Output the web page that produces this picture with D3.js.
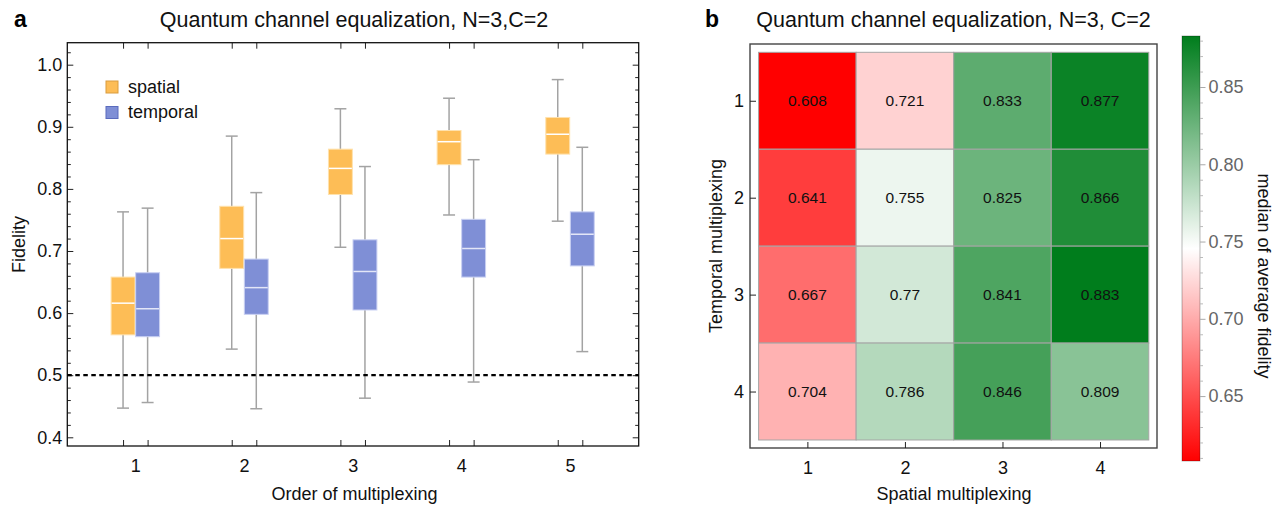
<!DOCTYPE html>
<html>
<head>
<meta charset="utf-8">
<script src="https://cdn.jsdelivr.net/npm/d3@7"></script>
<style>
  body { margin: 0; background: #fff; }
  svg { font-family: "Liberation Sans", Arial, sans-serif; }
</style>
</head>
<body>
<svg id="chart" width="1286" height="510"></svg>
<script>
// ---- data ----
var orders = [1, 2, 3, 4, 5];
// [lower whisker, q1, median, q3, upper whisker]
var spatialBoxes = [
  [0.447, 0.565, 0.616, 0.658, 0.763],
  [0.542, 0.672, 0.720, 0.772, 0.885],
  [0.706, 0.791, 0.833, 0.864, 0.929],
  [0.758, 0.839, 0.876, 0.894, 0.946],
  [0.748, 0.856, 0.888, 0.915, 0.976]
];
var temporalBoxes = [
  [0.456, 0.562, 0.607, 0.665, 0.769],
  [0.446, 0.598, 0.641, 0.687, 0.794],
  [0.463, 0.605, 0.667, 0.718, 0.836],
  [0.489, 0.658, 0.704, 0.751, 0.847],
  [0.538, 0.676, 0.727, 0.763, 0.867]
];
var seriesNames = ["spatial", "temporal"];
var fidelityTicks = [0.4, 0.5, 0.6, 0.7, 0.8, 0.9, 1.0];
var threshold = 0.5;

var spatialLevels = [1, 2, 3, 4];
var temporalLevels = [1, 2, 3, 4];
// rows = temporal multiplexing, columns = spatial multiplexing
var medianFidelity = [
  [0.608, 0.721, 0.833, 0.877],
  [0.641, 0.755, 0.825, 0.866],
  [0.667, 0.770, 0.841, 0.883],
  [0.704, 0.786, 0.846, 0.809]
];
var colorbarTicks = [0.65, 0.70, 0.75, 0.80, 0.85];

var svg = d3.select('#chart');

// ================= panel a : box-whisker =================
var a = {left: 67.3, right: 638.7, top: 42.7, bottom: 446};

var x = d3.scaleLinear().domain([0.374, 5.632]).range([a.left, a.right]);
var y = d3.scaleLinear().domain([0.386, 1.0354]).range([a.bottom, a.top]);

var off = 0.113, boxW = 0.22, capW = 0.11;
var colors = {
  spatial: {fill: "#fdbd56", edge: "#ffe2ad", med: "#ffffff", key: "#d99c3e"},
  temporal: {fill: "#7f8fd6", edge: "#c9d0f2", med: "#e3e6f7", key: "#5a6bbd"}
};

var boxTicks = [];
orders.forEach(function(o) { boxTicks.push(o - off, o + off); });

// minor ticks every 0.02 inside the frame
var minor = d3.range(0.40, 1.04, 0.02).map(function(d) { return +d.toFixed(2); })
  .filter(function(d) { return fidelityTicks.indexOf(d) < 0 && d <= y.domain()[1]; });

function clean(g) { g.select(".domain").remove(); g.selectAll("line").attr("stroke", "#222"); }

svg.append("g").attr("transform", "translate(" + a.left + ",0)")
  .call(d3.axisLeft(y).tickValues(fidelityTicks).tickSize(-6).tickPadding(5).tickFormat(d3.format(".1f")))
  .call(clean)
  .selectAll("text").style("font-size", "18px").attr("fill", "#111");
svg.append("g").attr("transform", "translate(" + a.left + ",0)")
  .call(d3.axisLeft(y).tickValues(minor).tickSize(-3.5).tickFormat(""))
  .call(clean);
svg.append("g").attr("transform", "translate(" + a.right + ",0)")
  .call(d3.axisRight(y).tickValues(fidelityTicks).tickSize(-6).tickFormat(""))
  .call(clean);
svg.append("g").attr("transform", "translate(" + a.right + ",0)")
  .call(d3.axisRight(y).tickValues(minor).tickSize(-3.5).tickFormat(""))
  .call(clean);
svg.append("g").attr("transform", "translate(0," + a.bottom + ")")
  .call(d3.axisBottom(x).tickValues(boxTicks).tickSize(-6).tickFormat(""))
  .call(clean);
svg.append("g").attr("transform", "translate(0," + a.top + ")")
  .call(d3.axisTop(x).tickValues(boxTicks).tickSize(-6).tickFormat(""))
  .call(clean);
svg.append("g").attr("transform", "translate(0," + a.bottom + ")")
  .call(d3.axisBottom(x).tickValues(orders).tickSize(0).tickPadding(13).tickFormat(d3.format("d")))
  .call(clean)
  .selectAll("text").style("font-size", "18px").attr("fill", "#111");

svg.append("rect")
  .attr("x", a.left).attr("y", a.top)
  .attr("width", a.right - a.left).attr("height", a.bottom - a.top)
  .attr("fill", "none").attr("stroke", "#111").attr("stroke-width", 1.3);

function drawBoxes(data, shift, c) {
  var g = svg.append("g");
  data.forEach(function(b, i) {
    var cx = orders[i] + shift;
    var grp = g.append("g");
    grp.append("line")
      .attr("x1", x(cx)).attr("x2", x(cx))
      .attr("y1", y(b[0])).attr("y2", y(b[4]))
      .attr("stroke", "#a3a3a3").attr("stroke-width", 1.5);
    [b[0], b[4]].forEach(function(v) {
      grp.append("line")
        .attr("x1", x(cx - capW / 2)).attr("x2", x(cx + capW / 2))
        .attr("y1", y(v)).attr("y2", y(v))
        .attr("stroke", "#a3a3a3").attr("stroke-width", 1.5);
    });
    grp.append("rect")
      .attr("x", x(cx - boxW / 2)).attr("y", y(b[3]))
      .attr("width", x(cx + boxW / 2) - x(cx - boxW / 2))
      .attr("height", y(b[1]) - y(b[3]))
      .attr("fill", c.fill).attr("stroke", c.edge).attr("stroke-width", 1);
    grp.append("line")
      .attr("x1", x(cx - boxW / 2) + 0.5).attr("x2", x(cx + boxW / 2) - 0.5)
      .attr("y1", y(b[2])).attr("y2", y(b[2]))
      .attr("stroke", c.med).attr("stroke-width", 1.5);
  });
}
drawBoxes(spatialBoxes, -off, colors.spatial);
drawBoxes(temporalBoxes, off, colors.temporal);

svg.append("line")
  .attr("x1", a.left).attr("x2", a.right)
  .attr("y1", y(threshold)).attr("y2", y(threshold))
  .attr("stroke", "#000").attr("stroke-width", 2.2)
  .attr("stroke-dasharray", "4.5,3.5");

// legend
var legend = svg.append("g").attr("transform", "translate(106,81)");
seriesNames.forEach(function(name, i) {
  var c = colors[name];
  legend.append("rect")
    .attr("x", 0).attr("y", i * 25.5).attr("width", 12).attr("height", 12)
    .attr("fill", c.fill).attr("stroke", c.key).attr("stroke-width", 1);
  legend.append("text")
    .attr("x", 22).attr("y", i * 25.5 + 11.5)
    .style("font-size", "18px").attr("fill", "#111").text(name);
});

svg.append("text").attr("x", 14).attr("y", 27)
  .style("font-size", "23px").style("font-weight", "bold").text("a");
svg.append("text").attr("x", 354).attr("y", 27)
  .style("text-anchor", "middle").style("font-size", "21.5px").attr("fill", "#111")
  .text("Quantum channel equalization, N=3,C=2");
svg.append("text")
  .attr("transform", "translate(24.5,244.5) rotate(-90)")
  .style("text-anchor", "middle").style("font-size", "18px").attr("fill", "#111")
  .text("Fidelity");
svg.append("text").attr("x", 354.5).attr("y", 500)
  .style("text-anchor", "middle").style("font-size", "18px").attr("fill", "#111")
  .text("Order of multiplexing");

// ================= panel b : heatmap =================
var b = {left: 750, right: 1157, top: 44, bottom: 448};
var cx = d3.scaleBand().domain(spatialLevels).range([758.6, 1148.8]);
var cy = d3.scaleBand().domain(temporalLevels).range([52.3, 440]);

var allVals = d3.merge(medianFidelity);
var vMin = d3.min(allVals), vMax = d3.max(allVals);
var color = d3.scaleLinear()
  .domain([vMin, (vMin + vMax) / 2, vMax])
  .range(["#ff0000", "#ffffff", "#007d1c"]);

var cells = [];
temporalLevels.forEach(function(t, r) {
  spatialLevels.forEach(function(s, c) {
    cells.push({s: s, t: t, v: medianFidelity[r][c]});
  });
});

svg.append("g").selectAll("rect").data(cells).join("rect")
  .attr("x", function(d) { return cx(d.s); })
  .attr("y", function(d) { return cy(d.t); })
  .attr("width", cx.bandwidth()).attr("height", cy.bandwidth())
  .attr("fill", function(d) { return color(d.v); })
  .attr("stroke", "#a5a5a5").attr("stroke-width", 1);

svg.append("g").selectAll("text").data(cells).join("text")
  .attr("x", function(d) { return cx(d.s) + cx.bandwidth() / 2; })
  .attr("y", function(d) { return cy(d.t) + cy.bandwidth() / 2; })
  .attr("dy", "0.35em")
  .style("text-anchor", "middle").style("font-size", "15.5px").attr("fill", "#111")
  .text(function(d) { return String(d.v); });

svg.append("rect")
  .attr("x", b.left).attr("y", b.top)
  .attr("width", b.right - b.left).attr("height", b.bottom - b.top)
  .attr("fill", "none").attr("stroke", "#444").attr("stroke-width", 1.4);

var bx = d3.scalePoint().domain(spatialLevels).range([cx(1) + cx.bandwidth() / 2, cx(4) + cx.bandwidth() / 2]);
var by = d3.scalePoint().domain(temporalLevels).range([cy(1) + cy.bandwidth() / 2, cy(4) + cy.bandwidth() / 2]);

svg.append("g").attr("transform", "translate(0," + b.bottom + ")")
  .call(d3.axisBottom(bx).tickSize(-6).tickPadding(13))
  .call(clean)
  .selectAll("text").style("font-size", "18px").attr("fill", "#111");
svg.append("g").attr("transform", "translate(" + b.left + ",0)")
  .call(d3.axisLeft(by).tickSize(-6).tickPadding(6))
  .call(clean)
  .selectAll("text").style("font-size", "18px").attr("fill", "#111");

svg.append("text").attr("x", 705).attr("y", 27)
  .style("font-size", "23px").style("font-weight", "bold").text("b");
svg.append("text").attr("x", 953.5).attr("y", 27)
  .style("text-anchor", "middle").style("font-size", "21.5px").attr("fill", "#111")
  .text("Quantum channel equalization, N=3, C=2");
svg.append("text")
  .attr("transform", "translate(722,246) rotate(-90)")
  .style("text-anchor", "middle").style("font-size", "18px").attr("fill", "#111")
  .text("Temporal multiplexing");
svg.append("text").attr("x", 954).attr("y", 500)
  .style("text-anchor", "middle").style("font-size", "18px").attr("fill", "#111")
  .text("Spatial multiplexing");

// colorbar
var cb = {left: 1182, right: 1200, top: 36, bottom: 461};
var cbScale = d3.scaleLinear().domain([vMin, vMax]).range([cb.bottom, cb.top]);

var grad = svg.append("defs").append("linearGradient")
  .attr("id", "cbgrad").attr("x1", 0).attr("y1", 1).attr("x2", 0).attr("y2", 0);
d3.range(0, 1.0001, 0.05).forEach(function(f) {
  grad.append("stop").attr("offset", f).attr("stop-color", color(vMin + f * (vMax - vMin)));
});
svg.append("rect")
  .attr("x", cb.left).attr("y", cb.top)
  .attr("width", cb.right - cb.left).attr("height", cb.bottom - cb.top)
  .attr("fill", "url(#cbgrad)").attr("stroke", "rgba(0,0,0,0.35)").attr("stroke-width", 0.8);

var cbMinor = d3.range(0.61, 0.885, 0.01).map(function(d) { return +d.toFixed(2); })
  .filter(function(d) { return colorbarTicks.indexOf(d) < 0; });
svg.append("g").attr("transform", "translate(" + cb.right + ",0)")
  .call(d3.axisRight(cbScale).tickValues(colorbarTicks).tickSize(5.5).tickPadding(3).tickFormat(d3.format(".2f")))
  .call(function(g) { g.select(".domain").remove(); g.selectAll("line").attr("stroke", "#aaa"); })
  .selectAll("text").style("font-size", "18px").attr("fill", "#666");
svg.append("g").attr("transform", "translate(" + cb.right + ",0)")
  .call(d3.axisRight(cbScale).tickValues(cbMinor).tickSize(3).tickFormat(""))
  .call(function(g) { g.select(".domain").remove(); g.selectAll("line").attr("stroke", "#bbb"); });

svg.append("text")
  .attr("transform", "translate(1264,276) rotate(90)")
  .attr("dy", "0.35em")
  .style("text-anchor", "middle").style("font-size", "18px").attr("fill", "#111")
  .text("median of average fidelity");
</script>
</body>
</html>
